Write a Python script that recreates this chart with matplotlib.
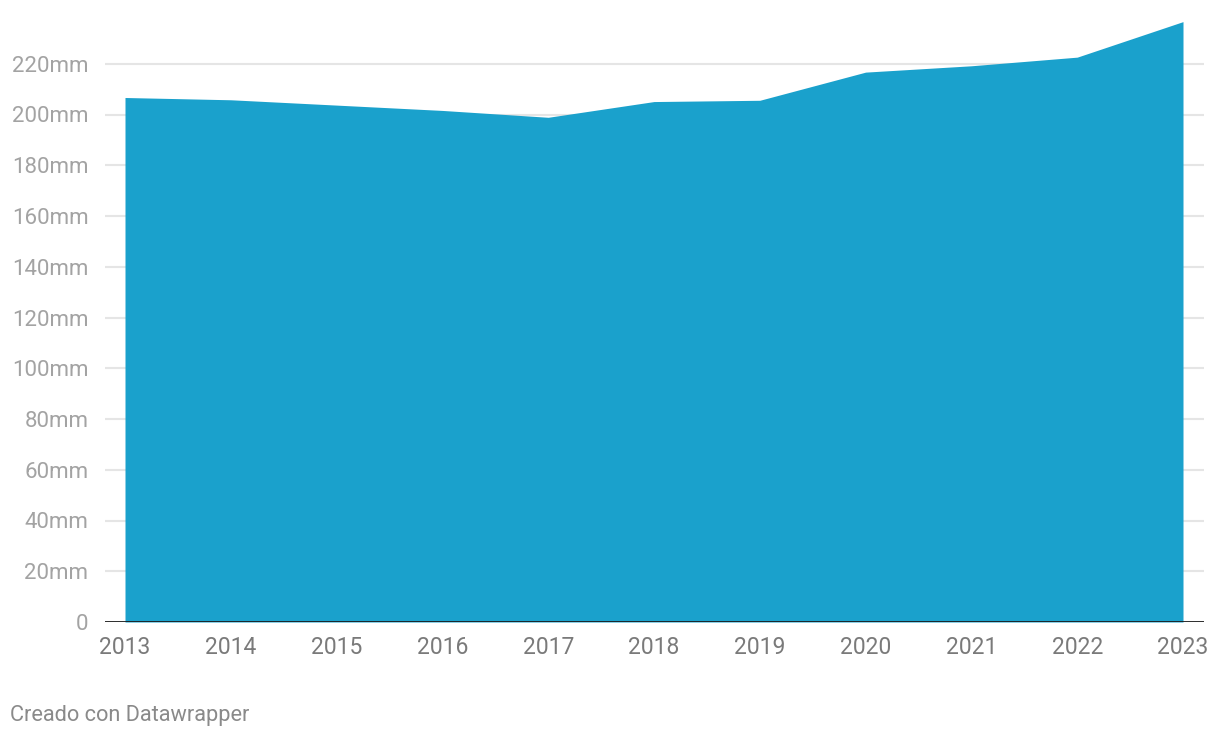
import matplotlib.pyplot as plt
import numpy as np

plt.rcParams['font.family'] = ['Roboto', 'DejaVu Sans']

years = [2013, 2014, 2015, 2016, 2017, 2018, 2019, 2020, 2021, 2022, 2023]
values = [206.7, 205.8, 203.7, 201.6, 198.9, 205.1, 205.6, 216.7, 219.2, 222.6, 236.6]
yticks = [0, 20, 40, 60, 80, 100, 120, 140, 160, 180, 200, 220]
ylabels = ["0"] + ["{}mm".format(v) for v in yticks[1:]]

W, H = 1220, 738
fig = plt.figure(figsize=(W / 100, H / 100), dpi=100)
# axes box in pixel coords: left 105, right 1204, top 13, bottom 622
ax = fig.add_axes([105 / W, 1 - 622 / H, (1204 - 105) / W, (622 - 13) / H])

ax.fill_between(years, values, 0, color='#1aa1cc', linewidth=0, zorder=2)

ax.set_xlim(2013 - 20 / 105.8, 2023 + 21 / 105.8)
ax.set_ylim(0, 240)

ax.set_yticks(yticks)
ax.set_yticklabels(ylabels)
ax.set_xticks(years)
ax.set_xticklabels([str(y) for y in years])

for y in yticks[1:]:
    ax.axhline(y, color='#e5e5e5', linewidth=1.5, zorder=1)
ax.axhline(0, color='#1a1a1a', linewidth=2, zorder=3)

for s in ax.spines.values():
    s.set_visible(False)
ax.tick_params(axis='both', length=0)
ax.tick_params(axis='y', pad=12, labelsize=16, labelcolor='#a3a3a3')
ax.tick_params(axis='x', pad=10, labelsize=16.5, labelcolor='#7a7a7a')

fig.text(10 / W, 1 - 716 / H, "Creado con Datawrapper", fontsize=15.7,
         color='#8a8a8a', va='center', ha='left')

fig.savefig('out.png', dpi=100)
